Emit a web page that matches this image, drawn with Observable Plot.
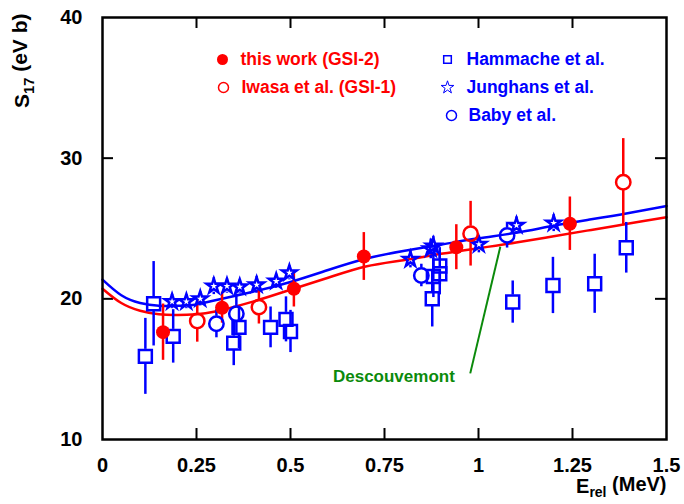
<!DOCTYPE html>
<html><head><meta charset="utf-8">
<script src="https://cdn.jsdelivr.net/npm/d3@7"></script>
<script src="https://cdn.jsdelivr.net/npm/@observablehq/plot@0.6"></script>
<style>body{margin:0;background:#fff}#chart{width:684px;height:504px}</style>
</head><body><div id="chart"></div>
<script>
// ---- data ----
const gsi2E   = [0.161, 0.318, 0.509, 0.695, 0.941, 1.243];
const gsi2S   = [17.63, 19.37, 20.72, 23.01, 23.67, 25.34];
const gsi2Err = [2.0, 1.1, 1.3, 1.7, 1.6, 1.9];

const gsi1E   = [0.252, 0.416, 0.979, 1.385];
const gsi1S   = [18.42, 19.41, 24.63, 28.29];
const gsi1Err = [1.5, 1.2, 2.3, 3.1];

const hamE   = [0.114, 0.136, 0.188, 0.349, 0.363, 0.447, 0.488, 0.500, 0.877, 0.880, 0.897, 0.897, 1.091, 1.198, 1.309, 1.393];
const hamS   = [15.91, 19.65, 17.33, 16.85, 17.97, 17.97, 18.54, 17.68, 20.0, 21.59, 22.34, 21.78, 19.77, 20.95, 21.07, 23.63];
const hamErr = [2.7, 3.0, 1.9, 1.6, 1.5, 1.45, 1.6, 1.5, 2.0, 1.5, 1.3, 1.5, 1.5, 2.0, 2.1, 1.8];

const jungE   = [0.185, 0.223, 0.260, 0.296, 0.331, 0.365, 0.410, 0.462, 0.497, 0.819, 0.873, 0.880, 1.001, 1.101, 1.200];
const jungS   = [19.8, 19.8, 20.0, 20.9, 20.9, 20.85, 21.0, 21.25, 21.85, 22.8, 23.55, 23.75, 23.87, 25.22, 25.38];
const jungErr = [0.5, 0.5, 0.5, 0.6, 0.5, 0.5, 0.6, 0.5, 0.5, 0.6, 0.7, 0.7, 0.6, 0.6, 0.6];

const babyE   = [0.303, 0.356, 0.848, 1.076];
const babyS   = [18.23, 18.94, 21.66, 24.51];
const babyErr = [1.0, 1.4, 0.8, 0.9];

// Descouvemont calculations
const curveE    = [0, 0.05, 0.1, 0.15, 0.2, 0.25, 0.3, 0.4, 0.5, 0.6, 0.7, 0.8, 0.9, 1.0, 1.1, 1.2, 1.3, 1.4, 1.5];
const curveBlue = [21.36, 20.25, 19.7, 19.5, 19.5, 19.6, 19.9, 20.5, 21.2, 22.05, 22.85, 23.4, 23.85, 24.3, 24.7, 25.2, 25.65, 26.1, 26.6];
const curveRed  = [20.72, 19.7, 19.15, 18.9, 18.85, 18.9, 19.1, 19.8, 20.65, 21.5, 22.3, 22.75, 23.2, 23.6, 24.0, 24.45, 24.9, 25.35, 25.8];

const xTicks = [0, 0.25, 0.5, 0.75, 1, 1.25, 1.5];
const xTickLabels = ["0", "0.25", "0.5", "0.75", "1", "1.25", "1.5"];
const yTicks = [10, 20, 30, 40];

const legendLabels = ["this work (GSI-2)", "Iwasa et al. (GSI-1)", "Hammache et al.", "Junghans et al.", "Baby et al."];
const annotation = {label: "Descouvemont", E: 0.775, S: 14.45, lineFrom: [1.058, 23.7], lineTo: [0.978, 14.7]};

// ---- build rows ----
const rows = (E, S, Er) => E.map((e, i) => ({E: e, S: S[i], err: Er[i]}));
const gsi2 = rows(gsi2E, gsi2S, gsi2Err);
const gsi1 = rows(gsi1E, gsi1S, gsi1Err);
const ham  = rows(hamE, hamS, hamErr);
const jung = rows(jungE, jungS, jungErr);
const baby = rows(babyE, babyS, babyErr);
const blueC = curveE.map((e, i) => ({E: e, S: curveBlue[i]}));
const redC  = curveE.map((e, i) => ({E: e, S: curveRed[i]}));

const RED = "#ff0000", BLUE = "#0000ff", GREEN = "#0b8a0b";
const W = 684, H = 504, mL = 102, mR = 18, mT = 17, mB = 65;
const pw = W - mL - mR, ph = H - mT - mB;
const TL = 11;

function errBars(data, color, gap) {
  return [
    Plot.ruleX(data, {x: "E", y1: d => d.S + d.err, y2: "S", insetBottom: gap, stroke: color, strokeWidth: 2.5}),
    Plot.ruleX(data, {x: "E", y1: "S", y2: d => d.S - d.err, insetTop: gap, stroke: color, strokeWidth: 2.5})
  ];
}

const FONT = "'Liberation Sans', Arial, Helvetica, sans-serif";
const LEG = {frameAnchor: "top-left", text: d => d, textAnchor: "start", lineAnchor: "middle", fontSize: 17.5, fontWeight: "bold"};

const marks = [
  // ticks (inward, all four sides)
  Plot.tickX(xTicks.slice(1, -1), {x: d => d, insetTop: ph - TL, strokeWidth: 2}),
  Plot.tickX(xTicks.slice(1, -1), {x: d => d, insetBottom: ph - TL, strokeWidth: 2}),
  Plot.tickY(yTicks.slice(1, -1), {y: d => d, insetRight: pw - TL, strokeWidth: 2}),
  Plot.tickY(yTicks.slice(1, -1), {y: d => d, insetLeft: pw - TL, strokeWidth: 2}),
  Plot.axisX(xTicks, {anchor: "bottom", tickSize: 0, tickPadding: 18, tickFormat: (d, i) => xTickLabels[i], fontSize: 20, fontWeight: "bold", label: null}),
  Plot.axisY(yTicks, {anchor: "left", tickSize: 0, tickPadding: 20, fontSize: 20, fontWeight: "bold", label: null}),
  // theory curves
  Plot.line(blueC, {x: "E", y: "S", stroke: BLUE, strokeWidth: 2.5, curve: "natural"}),
  Plot.line(redC, {x: "E", y: "S", stroke: RED, strokeWidth: 2.5, curve: "natural"}),
  // error bars
  ...errBars(ham, BLUE, 7),
  ...errBars(jung, BLUE, 6),
  ...errBars(baby, BLUE, 7.5),
  ...errBars(gsi1, RED, 7.5),
  ...errBars(gsi2, RED, 0),
  // markers
  Plot.dot(ham, {x: "E", y: "S", symbol: "square", r: 7.3, fill: "none", stroke: BLUE, strokeWidth: 2.5}),
  Plot.dot(jung, {x: "E", y: "S", symbol: "star", r: 4.6, fill: "none", stroke: BLUE, strokeWidth: 2.5}),
  Plot.dot(baby, {x: "E", y: "S", r: 7.2, fill: "none", stroke: BLUE, strokeWidth: 2.5}),
  Plot.dot(gsi1, {x: "E", y: "S", r: 7.2, fill: "none", stroke: RED, strokeWidth: 2.5}),
  Plot.dot(gsi2, {x: "E", y: "S", r: 7, fill: RED, stroke: "none"}),
  // annotation
  Plot.link([annotation], {x1: d => d.lineFrom[0], y1: d => d.lineFrom[1], x2: d => d.lineTo[0], y2: d => d.lineTo[1], stroke: GREEN, strokeWidth: 2}),
  Plot.text([annotation], {x: "E", y: "S", text: "label", fill: GREEN, fontSize: 17, fontWeight: "bold"}),
  // legend
  Plot.dot([0], {frameAnchor: "top-left", dx: 120, dy: 42, r: 5.5, fill: RED}),
  Plot.dot([0], {frameAnchor: "top-left", dx: 121, dy: 70, r: 5, fill: "none", stroke: RED, strokeWidth: 1.5}),
  Plot.dot([0], {frameAnchor: "top-left", dx: 345, dy: 42, symbol: "square", r: 4.3, fill: "none", stroke: BLUE, strokeWidth: 1.5}),
  Plot.dot([0], {frameAnchor: "top-left", dx: 345, dy: 70, symbol: "star", r: 4, fill: "none", stroke: BLUE, strokeWidth: 1}),
  Plot.dot([0], {frameAnchor: "top-left", dx: 349, dy: 98, r: 5, fill: "none", stroke: BLUE, strokeWidth: 1.5}),
  Plot.text([legendLabels[0]], {...LEG, dx: 138, dy: 42, fill: RED}),
  Plot.text([legendLabels[1]], {...LEG, dx: 139, dy: 70, fill: RED}),
  Plot.text([legendLabels[2]], {...LEG, dx: 364, dy: 42, fill: BLUE}),
  Plot.text([legendLabels[3]], {...LEG, dx: 364, dy: 70, fill: BLUE}),
  Plot.text([legendLabels[4]], {...LEG, dx: 366, dy: 98, fill: BLUE}),
  // axis titles
  Plot.text(["S17 (eV b)"], {frameAnchor: "top-left", dx: -80, dy: -4, rotate: -90, textAnchor: "end", lineAnchor: "middle", text: d => d, fontSize: 21, fontWeight: "bold", fill: "black"}),
  Plot.text(["Erel (MeV)"], {frameAnchor: "bottom-right", dx: 0, dy: 47, textAnchor: "end", lineAnchor: "middle", text: d => d, fontSize: 20, fontWeight: "bold", fill: "black"}),
  Plot.frame({stroke: "black", strokeWidth: 2.5})
];

const chart = Plot.plot({
  width: W, height: H,
  marginLeft: mL, marginRight: mR, marginTop: mT, marginBottom: mB,
  x: {domain: [0, 1.5]},
  y: {domain: [10, 40]},
  style: {fontFamily: FONT, background: "white", color: "black", overflow: "visible"},
  marks
});
document.getElementById("chart").appendChild(chart);

// subscripts in axis titles
d3.select(chart).selectAll("text").each(function() {
  const t = d3.select(this);
  const s = this.textContent;
  if (s === "S17 (eV b)") {
    t.text(null);
    t.append("tspan").text("S");
    t.append("tspan").attr("dy", "0.3em").attr("font-size", "0.7em").text("17");
    t.append("tspan").attr("dy", "-0.3em").text(" (eV b)");
  } else if (s === "Erel (MeV)") {
    t.text(null);
    t.append("tspan").text("E");
    t.append("tspan").attr("dy", "0.3em").attr("font-size", "0.7em").text("rel");
    t.append("tspan").attr("dy", "-0.3em").text(" (MeV)");
  }
});
</script></body></html>
